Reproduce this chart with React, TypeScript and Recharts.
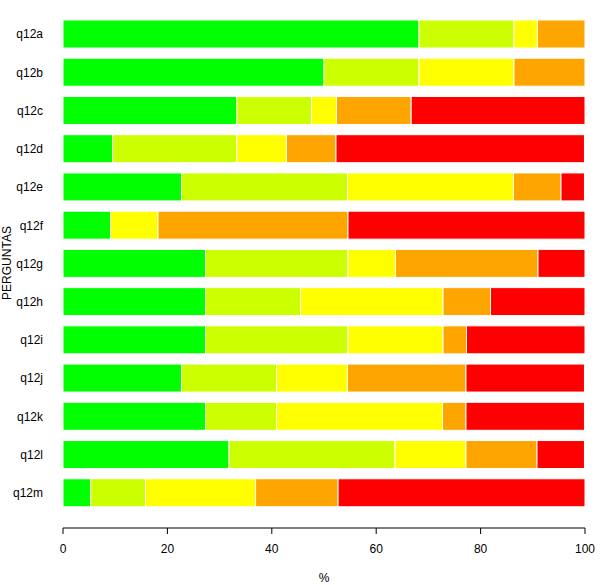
import { BarChart, Bar, XAxis, YAxis } from 'recharts';

const questions = ['q12a', 'q12b', 'q12c', 'q12d', 'q12e', 'q12f', 'q12g', 'q12h', 'q12i', 'q12j', 'q12k', 'q12l', 'q12m'];

// percentages per answer level, one value per question (same order as above)
const level1 = [68.2, 50.0, 33.3, 9.5, 22.7, 9.1, 27.3, 27.3, 27.3, 22.7, 27.3, 31.8, 5.3];
const level2 = [18.2, 18.2, 14.3, 23.8, 31.8, 0, 27.3, 18.2, 27.3, 18.2, 13.6, 31.8, 10.5];
const level3 = [4.5, 18.2, 4.8, 9.5, 31.8, 9.1, 9.1, 27.3, 18.2, 13.6, 31.8, 13.6, 21.1];
const level4 = [9.1, 13.6, 14.3, 9.5, 9.1, 36.4, 27.3, 9.1, 4.5, 22.7, 4.5, 13.6, 15.8];
const level5 = [0, 0, 33.3, 47.6, 4.5, 45.5, 9.1, 18.2, 22.7, 22.7, 22.7, 9.1, 47.4];

const xTicks = [0, 20, 40, 60, 80, 100];

const series = [
  { key: 'l1', values: level1, color: '#00FF00' },
  { key: 'l2', values: level2, color: '#CCFF00' },
  { key: 'l3', values: level3, color: '#FFFF00' },
  { key: 'l4', values: level4, color: '#FFA500' },
  { key: 'l5', values: level5, color: '#FF0000' },
];

const data = questions.map((q, i) => {
  const row: Record<string, string | number> = { name: q };
  series.forEach((s) => {
    row[s.key] = s.values[i];
  });
  return row;
});

const font = 'Arial, "Liberation Sans", sans-serif';

export default function App() {
  return (
    <div style={{ position: 'absolute', left: 0, top: 0, background: '#fff', fontFamily: font }}>
      <BarChart
        width={600}
        height={585}
        data={data}
        layout="vertical"
        margin={{ top: 15, right: 15, bottom: 0, left: 0 }}
        barSize={28}
      >
        <XAxis
          type="number"
          domain={[0, 100]}
          ticks={xTicks}
          allowDataOverflow
          height={57}
          tickSize={6}
          tickMargin={10}
          stroke="#000"
          tick={{ fill: '#000', fontSize: 12, fontFamily: font }}
          label={{ value: '%', position: 'insideBottom', offset: 3, fill: '#000', fontSize: 12, fontFamily: font }}
        />
        <YAxis
          type="category"
          dataKey="name"
          width={63}
          padding={{ top: 0, bottom: 16 }}
          axisLine={false}
          tickLine={false}
          tickSize={0}
          tickMargin={20}
          tick={{ fill: '#000', fontSize: 12, fontFamily: font }}
          label={{
            content: () => (
              <text
                x={7}
                y={263}
                transform="rotate(-90, 7, 263)"
                textAnchor="middle"
                dominantBaseline="central"
                fill="#000"
                fontSize={12}
                fontFamily={font}
              >
                PERGUNTAS
              </text>
            ),
          }}
        />
        {series.map((s) => (
          <Bar
            key={s.key}
            dataKey={s.key}
            stackId="a"
            fill={s.color}
            stroke="#fff"
            strokeWidth={1}
            isAnimationActive={false}
          />
        ))}
      </BarChart>
    </div>
  );
}
